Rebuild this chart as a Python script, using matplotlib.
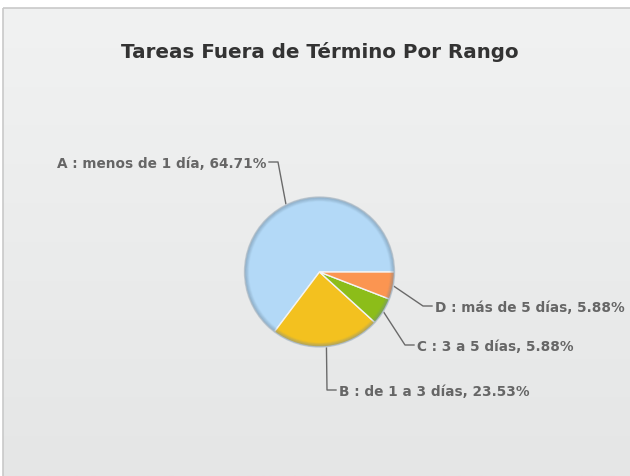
import numpy as np
import matplotlib.pyplot as plt
from matplotlib.patches import Rectangle, Circle

# Data
labels = ["A : menos de 1 día", "B : de 1 a 3 días", "C : 3 a 5 días", "D : más de 5 días"]
values = [64.71, 23.53, 5.88, 5.88]
colors = ["#b3d9f7", "#f3c11f", "#8cbd19", "#fb9551"]
title = "Tareas Fuera de Término Por Rango"

W, H = 630, 477
fig = plt.figure(figsize=(W / 100, H / 100), dpi=100)
ax = fig.add_axes([0, 0, 1, 1])

# background gradient panel with border
grad = np.linspace(0, 1, 256).reshape(-1, 1)
bg = plt.cm.colors.LinearSegmentedColormap.from_list("bg", ["#f1f2f2", "#e5e6e6"])
ax.imshow(grad, cmap=bg, extent=(3, W, H, 9), aspect="auto", zorder=0)
ax.add_patch(Rectangle((3, 9), W - 2, H, fill=False, ec="#c9c9c9", lw=1.2, zorder=1))

cx, cy, r = 319.5, 273.0, 75.0
# y axis is inverted, so clockwise in data = counterclockwise on screen
wedges, _ = ax.pie(values, colors=colors, startangle=0, counterclock=False,
                   center=(cx, cy), radius=r, frame=True,
                   wedgeprops=dict(edgecolor="#f4f4f4", linewidth=1.0))
for w in wedges:
    w.set_zorder(3)
ax.set_xlim(0, W)
ax.set_ylim(H, 0)
ax.axis("off")

# rim shading
for i, a in enumerate(np.linspace(0.4, 0.05, 6)):
    ax.add_patch(Circle((cx, cy), r - i * 0.8, fill=False, ec="#6f8aa0",
                        lw=1.0, alpha=a, zorder=4))

ax.text(320, 52, title, ha="center", va="center", fontsize=14.3,
        fontweight="bold", color="#333333")

# labels with elbow leaders
tot = sum(values)
start = 0.0
elbows = [(278, 163, -1), (327, 391, 1), (405, 346, 1), (423, 307, 1)]
for lab, v, (ex, ey, side) in zip(labels, values, elbows):
    mid = np.deg2rad(start + 360 * v / tot / 2)
    start += 360 * v / tot
    px, py = cx + r * np.cos(mid), cy - r * np.sin(mid)
    endx = ex + side * 9
    ax.plot([px, ex, endx], [py, ey, ey], color="#6a6a6a", lw=1.0, zorder=2)
    ax.text(endx + side * 3, ey + 1, "%s, %.2f%%" % (lab, v),
            ha="left" if side > 0 else "right", va="center",
            fontsize=9.8, fontweight="bold", color="#666666")

fig.savefig("out.png", dpi=100)
